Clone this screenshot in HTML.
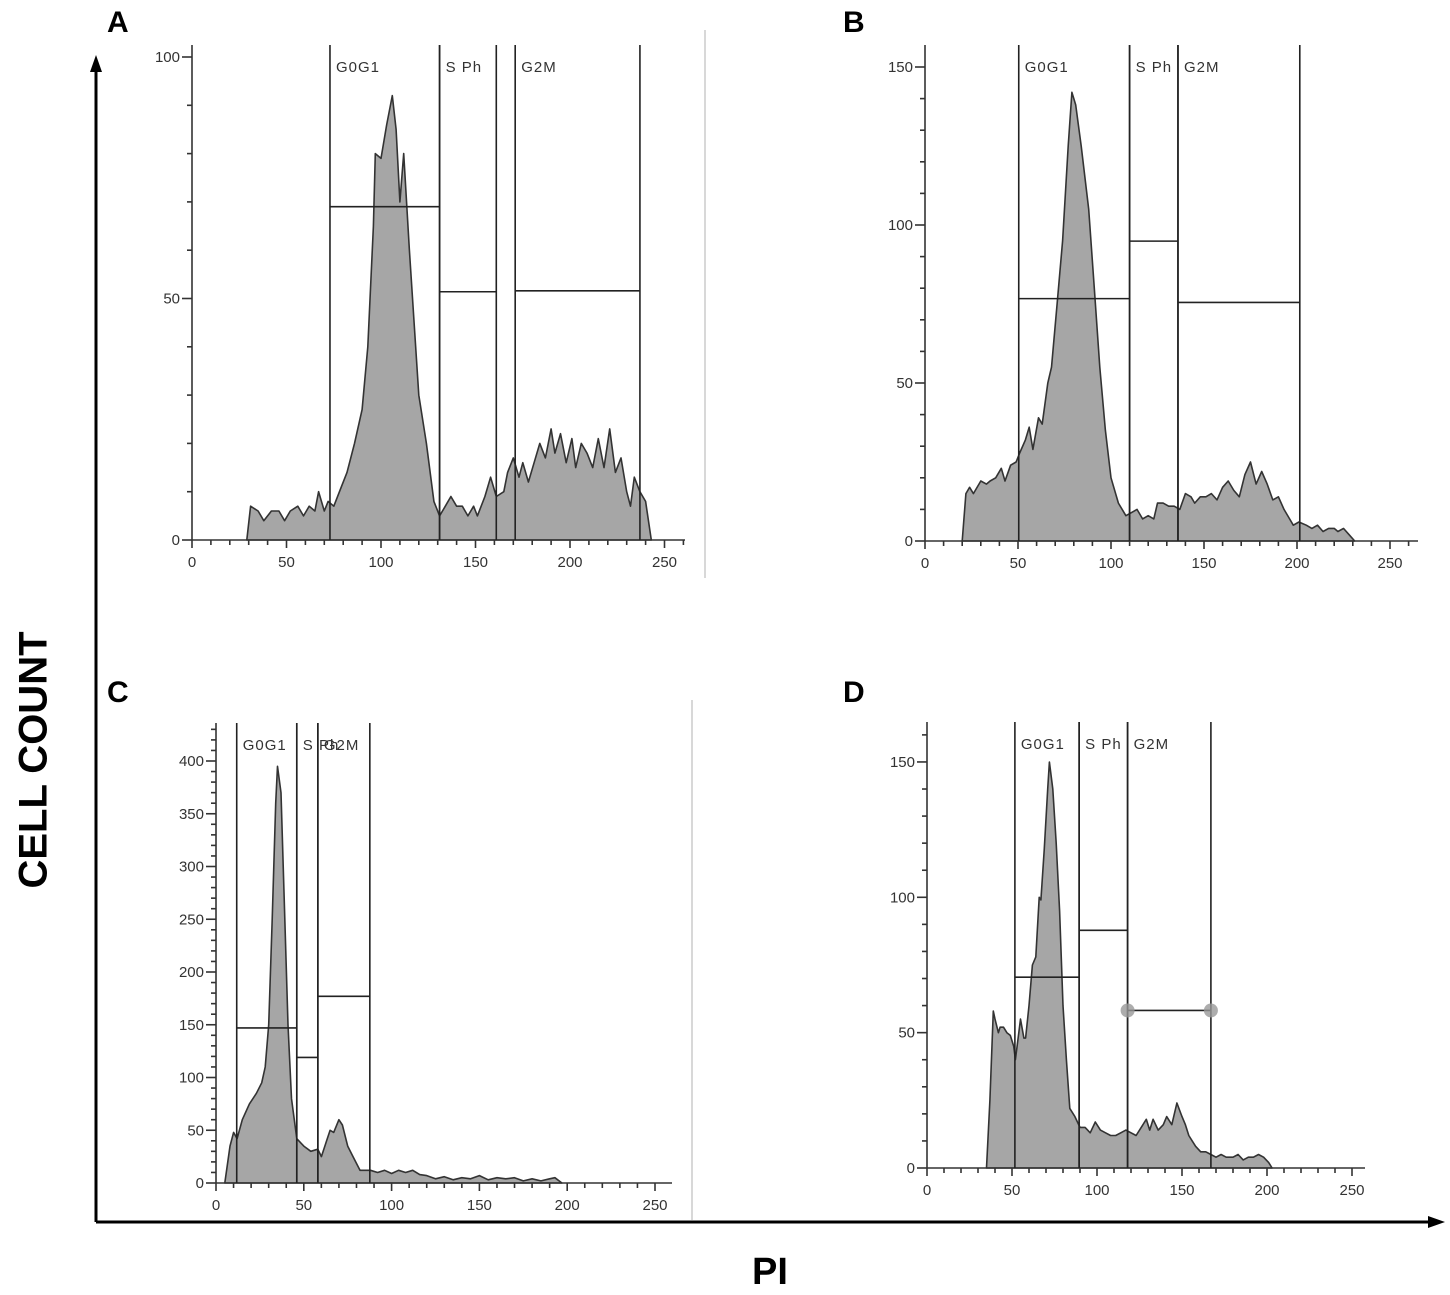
<!DOCTYPE html>
<html><head><meta charset="utf-8"><style>
html,body{margin:0;padding:0;background:#fff;}
svg{display:block;font-family:"Liberation Sans",sans-serif;}
</style></head><body>
<svg id="chart" width="1450" height="1295" viewBox="0 0 1450 1295">
<g id="outer">
<line x1="96" y1="1222" x2="96" y2="68" stroke="#000" stroke-width="3"/>
<polygon points="96,55 90,72 102,72" fill="#000"/>
<line x1="96" y1="1222" x2="1430" y2="1222" stroke="#000" stroke-width="3"/>
<polygon points="1445,1222 1428,1216 1428,1228" fill="#000"/>
<text x="36" y="760" transform="rotate(-90 36 760)" text-anchor="middle" font-size="40" font-weight="bold" dominant-baseline="middle">CELL COUNT</text>
<text x="770" y="1284" text-anchor="middle" font-size="38" font-weight="bold">PI</text>
<text x="107" y="32" font-size="30" font-weight="bold">A</text>
<text x="843" y="32" font-size="30" font-weight="bold">B</text>
<text x="107" y="702" font-size="30" font-weight="bold">C</text>
<text x="843" y="702" font-size="30" font-weight="bold">D</text>
<line x1="705" y1="30" x2="705" y2="578" stroke="#ccc" stroke-width="1.5"/>
<line x1="692" y1="700" x2="692" y2="1220" stroke="#ccc" stroke-width="1.5"/>
</g>
</svg>
<script>
// Panel A
const aPI=[29,31,35,38,42,46,49,52,56,59,62,65,67,70,72,75,79,82,86,90,93,96,97,100,103,106,108,110,112,115,120,124,128,131,134,137,140,143,146,149,151,155,158,161,165,167,170,173,175,178,181,184,187,190,192,195,198,201,203,206,209,212,215,218,221,224,227,230,232,234,237,240,243];
const aCount=[0,7,6,4,6,6,4,6,7,5,7,6,10,6,8,7,11,14,20,27,40,65,80,79,86,92,85,70,80,60,30,20,8,5,7,9,7,7,5,7,5,9,13,9,10,14,17,13,16,12,16,20,17,23,18,22,16,21,15,20,18,15,21,15,23,14,17,10,7,13,10,8,0];
const aGates=[[73,131,69],[131,161,51.4],[171,237,51.6]];
const aYTicks=[0,50,100];
// Panel B
const bPI=[20,22,24,26,30,33,35,38,41,43,46,49,51,54,56,58,61,63,66,68,71,74,77,79,81,84,88,91,94,97,100,104,108,111,114,117,120,123,125,128,131,134,137,140,143,145,148,151,154,157,160,163,166,169,172,175,178,181,184,187,190,193,196,198,201,205,208,211,214,217,220,222,225,228,231];
const bCount=[0,15,17,15,19,18,19,20,23,19,24,25,28,32,36,29,39,37,50,55,75,95,125,142,138,125,105,80,55,35,20,12,8,9,10,7,8,7,12,12,11,11,10,15,14,12,14,14,15,13,17,19,16,14,21,25,18,22,18,13,14,10,7,5,6,5,4,5,3,4,4,3,4,2,0];
const bGates=[[50.4,110,76.7],[110,136,94.9],[136,201.5,75.5]];
const bYTicks=[0,50,100,150];
// Panel C
const cPI=[5,8,10,12,15,19,23,26,28,30,32,34,35,37,39,41,43,46,50,54,58,60,63,65,67,70,72,75,78,82,88,92,96,100,104,108,112,116,120,125,130,135,140,145,150,155,160,165,170,175,180,185,190,193,197];
const cCount=[0,35,48,42,60,75,85,95,110,150,250,360,395,370,260,150,80,42,35,30,32,25,40,50,48,60,55,35,25,12,12,10,12,9,12,10,12,8,7,4,6,3,5,4,7,3,5,4,5,2,4,2,4,5,0];
const cGates=[[11.8,46,147],[46,58,119],[58,87.6,177]];
const cYTicks=[0,50,100,150,200,250,300,350,400];
// Panel D
const dPI=[35,37,39,40,42,43,45,47,49,51,52,54,55,57,58,60,62,64,66,67,69,71,72,74,76,78,80,82,84,87,90,93,96,99,102,105,108,111,114,117,120,123,126,129,131,133,136,139,141,144,147,150,152,154,156,158,161,164,167,170,173,176,180,183,186,189,192,195,198,201,203];
const dCount=[0,25,58,55,50,52,52,50,49,45,40,50,55,48,48,60,75,78,100,99,118,140,150,140,120,95,60,40,22,19,15,15,13,17,14,13,12,12,13,14,13,12,15,18,14,18,14,16,19,16,24,19,16,12,10,8,6,6,5,4,5,4,4,5,3,4,4,5,4,2,0];
const dGates=[[51.7,89.5,70.5],[89.5,118,87.8],[118,167,58.2]];
const dYTicks=[0,50,100,150];
const xTicks=[0,50,100,150,200,250];

const NS="http://www.w3.org/2000/svg";
const svg=document.getElementById('chart');
function mk(tag,attrs,parent){const e=document.createElementNS(NS,tag);for(const k in attrs)e.setAttribute(k,attrs[k]);parent.appendChild(e);return e;}

function panel(id,cfg,pi,count,gates,yTicks,labels){
  const g=mk('g',{},svg);
  
  
  const X=v=>cfg.x0+v*cfg.kx, Y=v=>cfg.y0-v*cfg.ky;
  // histogram
  let d='M'+X(pi[0])+','+cfg.y0;
  for(let i=0;i<pi.length;i++)d+=' L'+X(pi[i]).toFixed(1)+','+Y(count[i]).toFixed(1);
  d+=' L'+X(pi[pi.length-1])+','+cfg.y0+' Z';
  const h=mk('path',{d:d,fill:'#a6a6a6',stroke:'#333','stroke-width':1.6,'stroke-linejoin':'round'},g);
  
  
  // axes
  const ax=mk('g',{stroke:'#333','stroke-width':1.6},g);
  
  
  mk('line',{x1:cfg.x0,y1:cfg.top,x2:cfg.x0,y2:cfg.y0},ax);
  mk('line',{x1:cfg.x0,y1:cfg.y0,x2:cfg.xEnd,y2:cfg.y0},ax);
  for(let v=0;v<=260;v+=10){const x=X(v);if(x>cfg.xEnd)break;mk('line',{x1:x,y1:cfg.y0,x2:x,y2:cfg.y0+(v%50===0?8:5)},ax);}
  const ymax=(cfg.top-cfg.y0)/-cfg.ky;
  for(let v=0;v<=ymax;v+=10){const y=Y(v);mk('line',{x1:cfg.x0-(v%50===0?10:5),y1:y,x2:cfg.x0,y2:y},ax);}
  xTicks.forEach(v=>{const t=mk('text',{x:X(v),y:cfg.y0+27,'text-anchor':'middle','font-size':15,fill:'#333'},g);t.textContent=v;
    
    });
  yTicks.forEach(v=>{const t=mk('text',{x:cfg.x0-12,y:Y(v)+5,'text-anchor':'end','font-size':15,fill:'#333'},g);t.textContent=v;
    
    });
  // gates
  const names=['G0G1','S Ph','G2M'];
  gates.forEach((gt,i)=>{
    const gg=mk('g',{stroke:'#222','stroke-width':1.6},g);
    
    
    mk('line',{x1:X(gt[0]),y1:cfg.top,x2:X(gt[0]),y2:cfg.y0},gg);
    mk('line',{x1:X(gt[1]),y1:cfg.top,x2:X(gt[1]),y2:cfg.y0},gg);
    mk('line',{x1:X(gt[0]),y1:Y(gt[2]),x2:X(gt[1]),y2:Y(gt[2])},gg);
    if(cfg.handles&&i===2){
      mk('circle',{cx:X(gt[0]),cy:Y(gt[2]),r:7,fill:'#999',stroke:'none',opacity:0.8},gg);
      mk('circle',{cx:X(gt[1]),cy:Y(gt[2]),r:7,fill:'#999',stroke:'none',opacity:0.8},gg);
    }
    const t=mk('text',{x:X(gt[0])+6,y:cfg.top+27,'font-size':15,fill:'#333','letter-spacing':'1'},g);
    t.textContent=labels[i];
    
    
  });
}
panel('a',{x0:192,kx:1.89,y0:540,ky:4.83,top:45,xEnd:685},aPI,aCount,aGates,aYTicks,['G0G1','S Ph','G2M']);
panel('b',{x0:925,kx:1.86,y0:541,ky:3.16,top:45,xEnd:1418},bPI,bCount,bGates,bYTicks,['G0G1','S Ph','G2M']);
panel('c',{x0:216,kx:1.756,y0:1183,ky:1.055,top:723,xEnd:672},cPI,cCount,cGates,cYTicks,['G0G1','S Ph','G2M']);
panel('d',{x0:927,kx:1.7,y0:1168,ky:2.707,top:722,xEnd:1365,handles:true},dPI,dCount,dGates,dYTicks,['G0G1','S Ph','G2M']);
</script>
</body></html>
